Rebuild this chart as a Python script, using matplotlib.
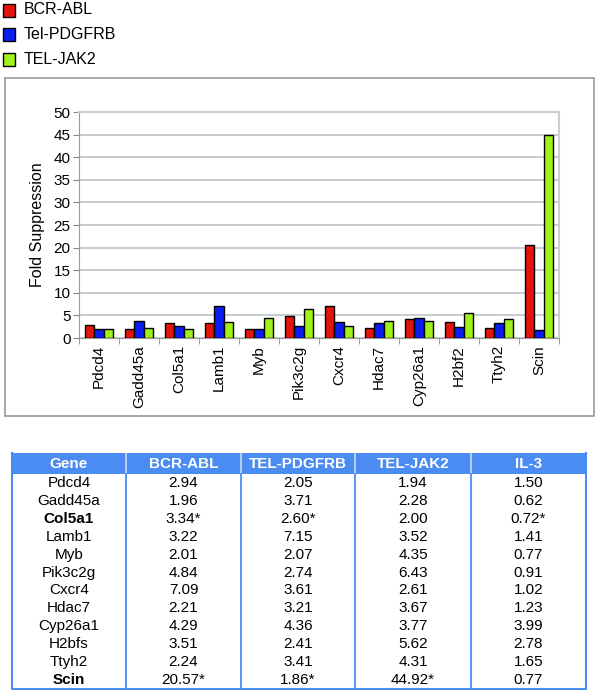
import matplotlib.pyplot as plt
import numpy as np
from matplotlib.patches import Rectangle

plt.rcParams['font.family'] = ['Liberation Sans', 'DejaVu Sans']

# chart data
chart_genes = ['Pdcd4', 'Gadd45a', 'Col5a1', 'Lamb1', 'Myb', 'Pik3c2g', 'Cxcr4',
               'Hdac7', 'Cyp26a1', 'H2bf2', 'Ttyh2', 'Scin']
bcr_abl = [2.94, 1.96, 3.34, 3.22, 2.01, 4.84, 7.09, 2.21, 4.29, 3.51, 2.24, 20.57]
tel_pdgfrb = [2.05, 3.71, 2.60, 7.15, 2.07, 2.74, 3.61, 3.21, 4.36, 2.41, 3.41, 1.86]
tel_jak2 = [1.94, 2.28, 2.00, 3.52, 4.35, 6.43, 2.61, 3.67, 3.77, 5.62, 4.31, 44.92]
il3 = [1.50, 0.62, 0.72, 1.41, 0.77, 0.91, 1.02, 1.23, 3.99, 2.78, 1.65, 0.77]

series_names = ['BCR-ABL', 'Tel-PDGFRB', 'TEL-JAK2']
series_colors = ['#e3140c', '#0a1ef0', '#a0f01c']

# table data
table_genes = ['Pdcd4', 'Gadd45a', 'Col5a1', 'Lamb1', 'Myb', 'Pik3c2g', 'Cxcr4',
               'Hdac7', 'Cyp26a1', 'H2bfs', 'Ttyh2', 'Scin']
bold_genes = ['Col5a1', 'Scin']
starred = {'BCR-ABL': ['Col5a1', 'Scin'],
           'TEL-PDGFRB': ['Col5a1', 'Scin'],
           'TEL-JAK2': ['Scin'],
           'IL-3': ['Col5a1']}
table_headers = ['Gene', 'BCR-ABL', 'TEL-PDGFRB', 'TEL-JAK2', 'IL-3']

W, H = 600, 690
fig = plt.figure(figsize=(W / 100, H / 100), dpi=100)

# overlay in pixel coordinates for legend, frame and table
ov = fig.add_axes([0, 0, 1, 1])
ov.set_xlim(0, W)
ov.set_ylim(H, 0)
ov.axis('off')

# chart frame
ov.add_patch(Rectangle((5, 78), 589, 338, fill=False, edgecolor='#9a9a9a', lw=1.2))

# legend
for i, (name, col) in enumerate(zip(series_names, series_colors)):
    yc = 10 + i * 24.5
    ov.add_patch(Rectangle((3, yc - 6.5), 12, 13, facecolor=col, edgecolor='black', lw=1))
    ov.text(24, yc, name, fontsize=11.5, va='center', ha='left')

# bar chart
ax = fig.add_axes([79 / W, 1 - 338 / H, 480 / W, 226 / H])
x = np.arange(len(chart_genes))
w = 0.23
for k, (vals, col) in enumerate(zip([bcr_abl, tel_pdgfrb, tel_jak2], series_colors)):
    ax.bar(x + (k - 1) * w, vals, w, color=col, edgecolor='black', lw=1, zorder=3)

ax.set_xlim(-0.5, len(chart_genes) - 0.5)
ax.set_ylim(0, 50)
ax.set_yticks(np.arange(0, 51, 5))
ax.yaxis.grid(True, color='#bfc4c8', lw=1.2, zorder=0)
ax.set_xticks(x)
ax.set_xticklabels(chart_genes, rotation=90, fontsize=11)
ax.set_xticks(np.arange(-0.5, len(chart_genes)), minor=True)
ax.tick_params(axis='x', which='major', length=0, pad=5)
ax.tick_params(axis='x', which='minor', length=4, color='#888888')
ax.tick_params(axis='y', length=4, color='#888888', labelsize=11, pad=2)
for s in ['left', 'bottom']:
    ax.spines[s].set_color('#999999')
for s in ['top', 'right']:
    ax.spines[s].set_color('#c8d0d6')
    ax.spines[s].set_linewidth(1.5)
ax.set_ylabel('Fold Suppression', fontsize=11.5, labelpad=6)

# table
col_edges = [12, 126, 241, 355, 471, 586]
top, head_bot, bottom = 453, 474, 689
row_h = (bottom - head_bot) / len(table_genes)
blue = '#4a8cf2'
ov.add_patch(Rectangle((col_edges[0], top), col_edges[-1] - col_edges[0], head_bot - top,
                       facecolor=blue, edgecolor='none'))
for j, hdr in enumerate(table_headers):
    cx = (col_edges[j] + col_edges[j + 1]) / 2
    ov.text(cx, (top + head_bot) / 2 + 0.5, hdr, color='white', fontsize=11,
            fontweight='bold', ha='center', va='center')
for xe in col_edges[1:-1]:
    ov.plot([xe, xe], [top + 1, head_bot], color='#c8dcfa', lw=1.2)
    ov.plot([xe, xe], [head_bot, bottom], color=blue, lw=1.3)
ov.plot([col_edges[0], col_edges[0], col_edges[-1], col_edges[-1]],
        [top, bottom, bottom, top], color=blue, lw=1.5)

columns = [bcr_abl, tel_pdgfrb, tel_jak2, il3]
for i, g in enumerate(table_genes):
    cy = head_bot + (i + 0.5) * row_h
    weight = 'bold' if g in bold_genes else 'normal'
    ov.text((col_edges[0] + col_edges[1]) / 2, cy, g, fontsize=11, fontweight=weight,
            ha='center', va='center')
    chart_name = chart_genes[i]
    for j, vals in enumerate(columns):
        s = '%.2f' % vals[i]
        if chart_name in starred[table_headers[j + 1]]:
            s += '*'
        cx = (col_edges[j + 1] + col_edges[j + 2]) / 2
        ov.text(cx, cy, s, fontsize=11, ha='center', va='center')

fig.savefig('out.png', dpi=100)
